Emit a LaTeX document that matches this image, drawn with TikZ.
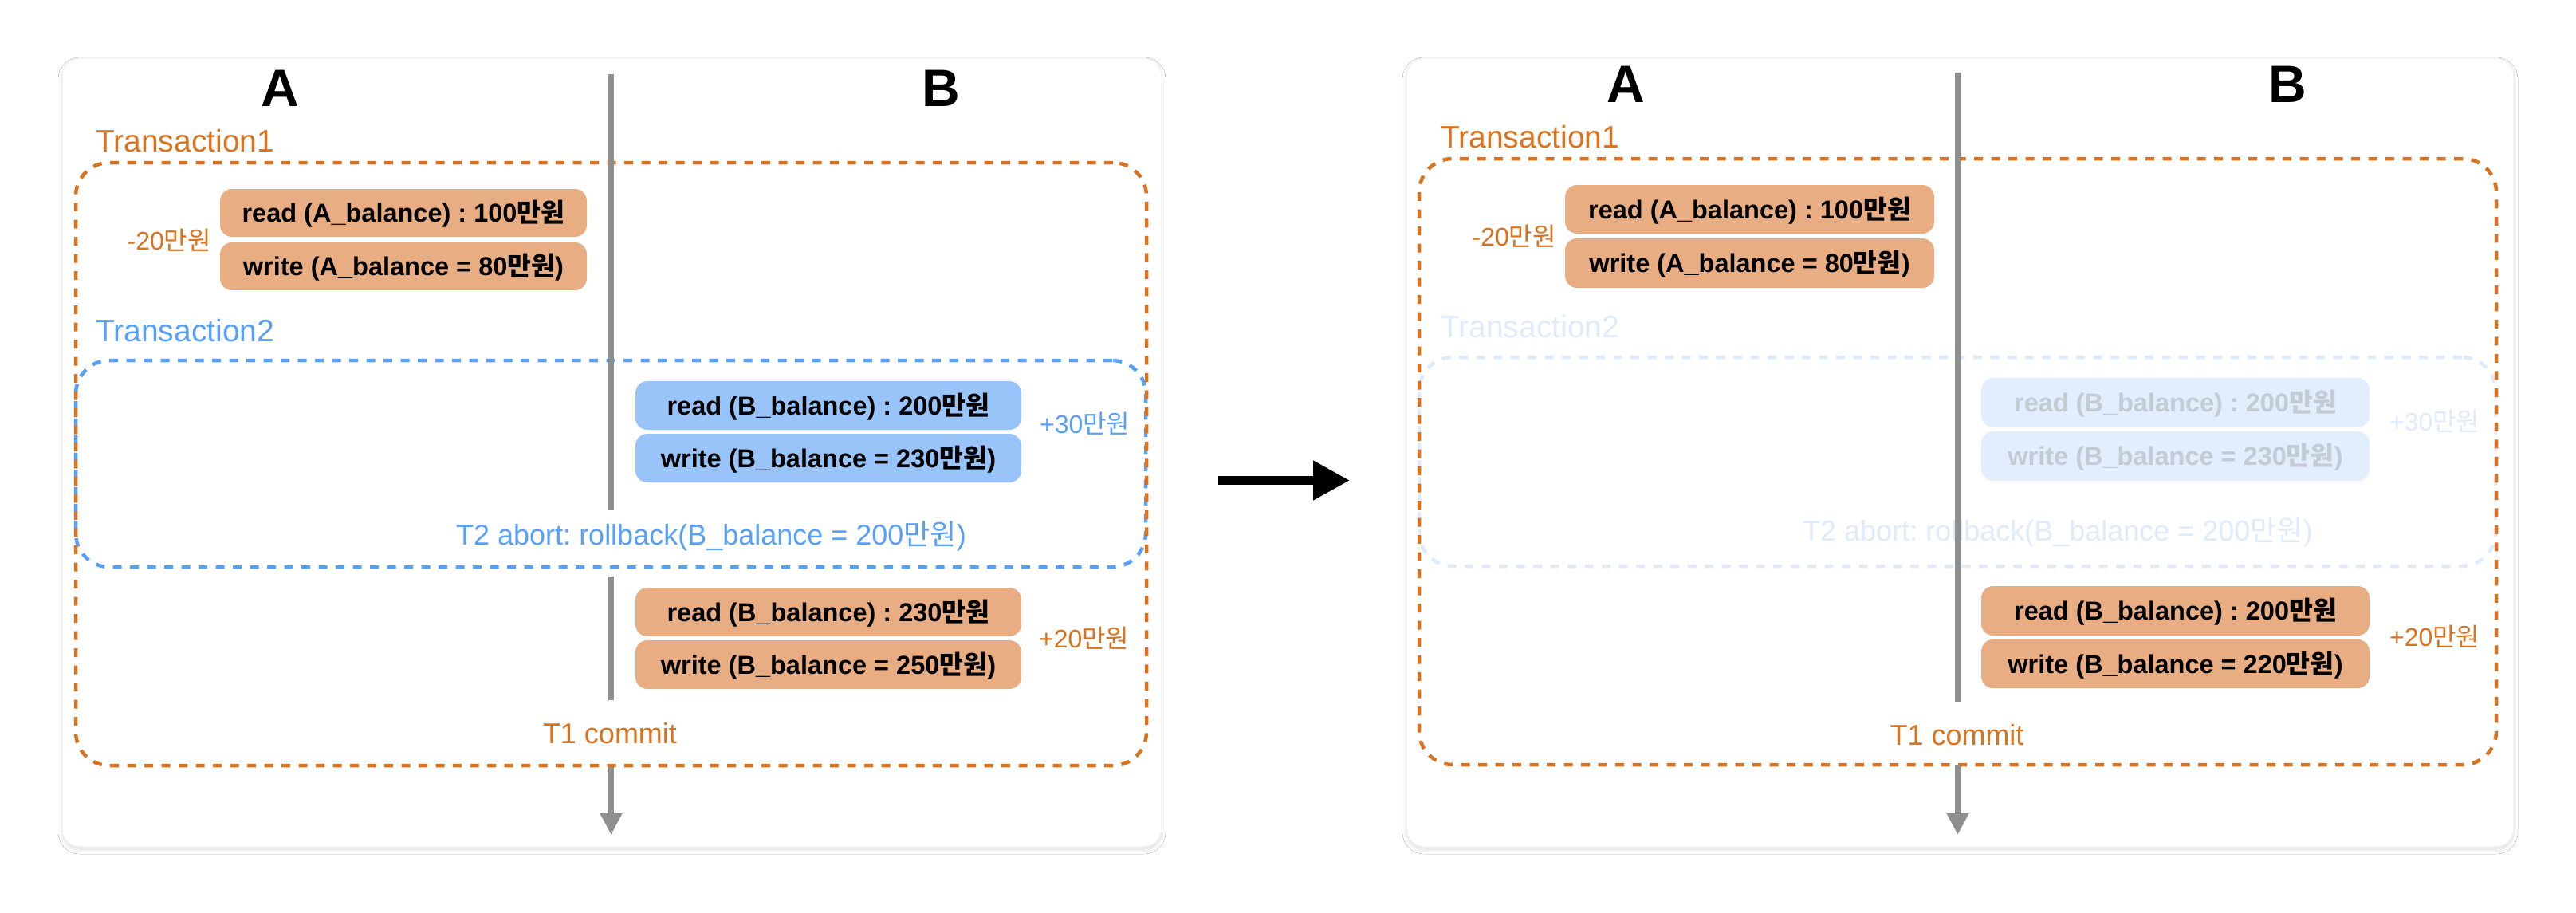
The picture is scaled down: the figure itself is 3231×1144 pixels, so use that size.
\documentclass[tikz,border=0pt]{standalone}
\usepackage{fontspec}
\setmainfont{Liberation Sans}
\newfontfamily\krfont{Noto Sans CJK KR}
\usetikzlibrary{arrows.meta,shadows.blur}
\newcommand{\mwon}{{\krfont 만원}}
\newcommand{\boxfont}{\fontsize{32.5}{38}\selectfont\bfseries}
\newcommand{\hdrfont}{\fontsize{66}{70}\selectfont\bfseries}
\newcommand{\ttlfont}{\fontsize{39}{44}\selectfont}
\newcommand{\dltfont}{\fontsize{32}{38}\selectfont}
\newcommand{\evtfont}{\fontsize{36}{42}\selectfont}
\definecolor{orangeT}{HTML}{D97320}
\definecolor{orangeF}{HTML}{E8AD82}
\definecolor{blueT}{HTML}{58A0F5}
\definecolor{blueF}{HTML}{99C4F9}
\definecolor{fadeF}{HTML}{E2EEFD}
\definecolor{fadeTxt}{HTML}{C3CBD4}
\definecolor{fadeBlue}{HTML}{DFEBFC}
\definecolor{lineGray}{HTML}{8F8F8F}
\definecolor{cardLine}{HTML}{F0F0F0}
\tikzset{
  card/.style={draw=cardLine, line width=1.5pt, fill=white, rounded corners=22pt, inner sep=0pt,
    blur shadow={shadow xshift=0pt, shadow yshift=-4pt, shadow blur radius=5pt, shadow opacity=12}},
  opbox/.style={fill=orangeF, rounded corners=15pt, inner sep=0pt, font=\boxfont, text height=23pt, text depth=0pt},
  bpbox/.style={opbox, fill=blueF},
  fpbox/.style={opbox, fill=fadeF, text=fadeTxt},
  t1frame/.style={draw=orangeT, line width=4.5pt, dash pattern=on 11pt off 10.5pt, rounded corners=42pt, inner sep=0pt},
  t2frame/.style={t1frame, draw=blueT},
  t2fade/.style={t1frame, draw=fadeBlue},
  hdr/.style={font=\hdrfont, inner sep=0pt},
  ttl/.style={font=\ttlfont, inner sep=0pt, anchor=base west},
  dlt/.style={font=\dltfont, inner sep=0pt},
  evt/.style={font=\evtfont, inner sep=0pt},
  tline/.style={draw=lineGray, line width=7pt},
  tarrow/.style={-{Triangle[length=27pt,width=26pt]}},
}
\begin{document}
\frenchspacing
\begin{tikzpicture}[x=1pt,y=-1pt]
\useasboundingbox (0,0) rectangle (3231,1144);
\fill[white] (0,0) rectangle (3231,1144);

% ================= LEFT PANEL =================
\node[card, minimum width=1379pt, minimum height=989pt] (cardL) at (767.5,567.5) {};
\node[hdr] (AL) at (351.5,111) {A};
\node[hdr] (BL) at (1180,111) {B};
\node[ttl, text=orangeT] (t1L) at (120,190) {Transaction1};
\node[t2frame, minimum width=1342pt, minimum height=259pt] (T2L) at (766,581.5) {};
\node[t1frame, minimum width=1343pt, minimum height=756pt] (T1L) at (766.5,582) {};
\node[opbox, minimum width=460pt, minimum height=60pt] (rAL) at (506,267) {read (A\_balance) : 100\mwon};
\node[opbox, minimum width=460pt, minimum height=60pt] (wAL) at (506,334) {write (A\_balance = 80\mwon)};
\node[dlt, text=orangeT, anchor=base east] (dAL) at (265,313) {-20\mwon};
\node[ttl, text=blueT] (t2L) at (120,428) {Transaction2};
\node[bpbox, minimum width=484pt, minimum height=61pt] (rBL) at (1039,508.5) {read (B\_balance) : 200\mwon};
\node[bpbox, minimum width=484pt, minimum height=61pt] (wBL) at (1039,574.5) {write (B\_balance = 230\mwon)};
\node[dlt, text=blueT, anchor=base west] (dBL) at (1304,543) {+30\mwon};
\node[evt, text=blueT, anchor=base west] (abL) at (572,683) {T2 abort: rollback(B\_balance = 200\mwon)};
\node[opbox, minimum width=484pt, minimum height=61pt] (rCL) at (1039,767.5) {read (B\_balance) : 230\mwon};
\node[opbox, minimum width=484pt, minimum height=61pt] (wCL) at (1039,833.5) {write (B\_balance = 250\mwon)};
\node[dlt, text=orangeT, anchor=base west] (dCL) at (1303,812) {+20\mwon};
\node[evt, text=orangeT, anchor=base] (cmL) at (765,932) {T1 commit};
\coordinate (L0) at (766.5,93);
\coordinate (L1) at (766.5,640);
\coordinate (L2) at (766.5,723);
\coordinate (L3) at (766.5,878);
\coordinate (L4) at (766.5,962);
\coordinate (L5) at (766.5,1047);
\draw[tline] (L0) -- (L1);
\draw[tline] (L2) -- (L3);
\draw[tline, tarrow] (L4) -- (L5);

% ================= MIDDLE ARROW =================
\coordinate (mA) at (1528,602.5);
\coordinate (mB) at (1693,602.5);
\draw[line width=11pt, -{Triangle[length=46pt,width=47pt]}] (mA) -- (mB);

% ================= RIGHT PANEL =================
\node[card, minimum width=1389pt, minimum height=989pt] (cardR) at (2458.5,567.5) {};
\node[hdr] (AR) at (2039,106) {A};
\node[hdr] (BR) at (2869,106) {B};
\node[ttl, text=orangeT] (t1R) at (1807,185) {Transaction1};
\node[ttl, text=fadeBlue] (t2R) at (1807,423) {Transaction2};
\node[t2fade, minimum width=1350pt, minimum height=262pt] (T2R) at (2455,579) {};
\node[t1frame, minimum width=1351pt, minimum height=760pt] (T1R) at (2455.5,579) {};
\node[opbox, minimum width=463pt, minimum height=61pt] (rAR) at (2194.5,262.5) {read (A\_balance) : 100\mwon};
\node[opbox, minimum width=463pt, minimum height=62pt] (wAR) at (2194.5,330) {write (A\_balance = 80\mwon)};
\node[dlt, text=orangeT, anchor=base east] (dAR) at (1952,308) {-20\mwon};
\node[fpbox, minimum width=487pt, minimum height=62pt] (rBR) at (2728.5,505) {read (B\_balance) : 200\mwon};
\node[fpbox, minimum width=487pt, minimum height=62pt] (wBR) at (2728.5,572) {write (B\_balance = 230\mwon)};
\node[dlt, text=fadeBlue, anchor=base west] (dBR) at (2997,540) {+30\mwon};
\node[evt, text=fadeBlue, anchor=base west] (abR) at (2261,678) {T2 abort: rollback(B\_balance = 200\mwon)};
\node[opbox, minimum width=487pt, minimum height=62pt] (rCR) at (2728.5,766) {read (B\_balance) : 200\mwon};
\node[opbox, minimum width=487pt, minimum height=61pt] (wCR) at (2728.5,832.5) {write (B\_balance = 220\mwon)};
\node[dlt, text=orangeT, anchor=base west] (dCR) at (2997,810) {+20\mwon};
\node[evt, text=orangeT, anchor=base] (cmR) at (2454.5,934) {T1 commit};
\coordinate (R0) at (2455.5,91);
\coordinate (R1) at (2455.5,880);
\coordinate (R2) at (2455.5,960);
\coordinate (R3) at (2455.5,1047);
\draw[tline] (R0) -- (R1);
\draw[tline, tarrow] (R2) -- (R3);
\end{tikzpicture}
\end{document}
